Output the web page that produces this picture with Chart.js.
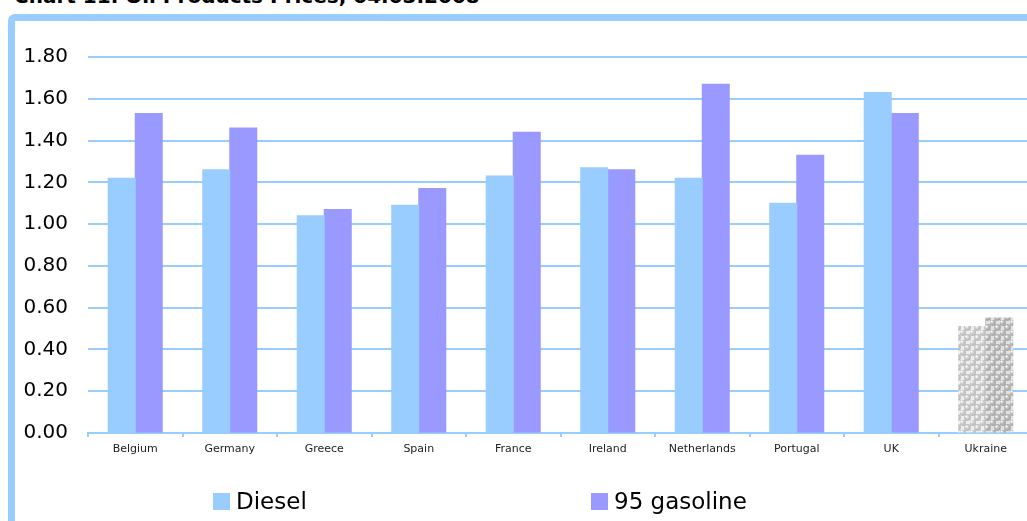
<!DOCTYPE html>
<html>
<head>
<meta charset="utf-8">
<script src="https://cdn.jsdelivr.net/npm/chart.js@4"></script>
<style>
  html, body { margin: 0; padding: 0; width: 1027px; height: 521px; overflow: hidden; background: #fff; }
  #title { position: absolute; left: 14px; top: -16px; font: bold 20px "DejaVu Sans", sans-serif; color: #000; white-space: nowrap; }
  #frame { position: absolute; left: 8px; top: 14px; width: 1060px; height: 540px; border: 7px solid #99CCFF; border-radius: 7px; box-sizing: border-box; }
  #oil-chart { position: absolute; left: 0; top: 0; }
  .legend-item { position: absolute; top: 489px; font: 23px "DejaVu Sans", sans-serif; color: #000; line-height: 24px; white-space: nowrap; }
  .legend-item span { display: inline-block; width: 17px; height: 17px; margin-right: 6px; vertical-align: -1px; }
</style>
</head>
<body>
<div id="title">Chart 11. Oil Products Prices, 04.03.2008</div>
<div id="frame"></div>
<canvas id="oil-chart" width="1045" height="521"></canvas>
<div class="legend-item" style="left:213px"><span style="background:#99CCFF"></span>Diesel</div>
<div class="legend-item" style="left:591px"><span style="background:#9999FF"></span>95 gasoline</div>
<script>
// Categories and series
const countries = ['Belgium', 'Germany', 'Greece', 'Spain', 'France', 'Ireland', 'Netherlands', 'Portugal', 'UK', 'Ukraine'];
const diesel = [1.22, 1.26, 1.04, 1.09, 1.23, 1.27, 1.22, 1.10, 1.63, 0.51];
const gasoline = [1.53, 1.46, 1.07, 1.17, 1.44, 1.26, 1.67, 1.33, 1.53, 0.55];
const patternIndex = countries.indexOf('Ukraine');

// Gray bubble fill used for Ukraine
function makeBubbles(bg, ball, edge) {
  const tile = document.createElement('canvas');
  tile.width = 10;
  tile.height = 10;
  const c = tile.getContext('2d');
  c.fillStyle = bg;
  c.fillRect(0, 0, 10, 10);
  [[2.5, 2.5], [7.5, 7.5], [7.5, -2.5], [-2.5, 7.5], [12.5, 7.5], [7.5, 12.5], [-2.5, -2.5], [12.5, 12.5], [12.5, -2.5], [-2.5, 12.5]].forEach(([x, y]) => {
    const g = c.createRadialGradient(x - 1.2, y - 1.2, 0.3, x, y, 3.6);
    g.addColorStop(0, '#ffffff');
    g.addColorStop(0.4, ball);
    g.addColorStop(1, edge);
    c.fillStyle = g;
    c.beginPath();
    c.arc(x, y, 3.4, 0, Math.PI * 2);
    c.fill();
  });
  return c.createPattern(tile, 'repeat');
}

const ctx = document.getElementById('oil-chart').getContext('2d');
const dieselPattern = makeBubbles('#eeeeee', '#d2d2d2', '#b4b4b4');
const gasolinePattern = makeBubbles('#e2e2e2', '#c0c0c0', '#a0a0a0');

const oilData = {
  labels: countries,
  datasets: [
    {
      label: 'Diesel',
      data: diesel,
      backgroundColor: (c) => (c.dataIndex === patternIndex ? dieselPattern : '#99CCFF'),
      borderWidth: 0,
      inflateAmount: 0.5,
    },
    {
      label: '95 gasoline',
      data: gasoline,
      backgroundColor: (c) => (c.dataIndex === patternIndex ? gasolinePattern : '#9999FF'),
      borderWidth: 0,
      inflateAmount: 0.5,
    },
  ],
};

const oilOptions = {
  responsive: false,
  animation: false,
  events: [],
  layout: {
    padding: { top: 57, right: 12, bottom: 58, left: 0 },
  },
  datasets: {
    bar: {
      categoryPercentage: 0.572,
      barPercentage: 1,
    },
  },
  scales: {
    x: {
      grid: {
        drawOnChartArea: false,
        drawTicks: true,
        tickLength: 4,
        color: '#99CCFF',
        lineWidth: 2,
      },
      border: { color: '#99CCFF', width: 2 },
      ticks: {
        color: '#222',
        padding: 6,
        maxRotation: 0,
        autoSkip: false,
        font: { family: 'DejaVu Sans', size: 11 },
      },
      afterFit: (s) => { s.height = 30; },
    },
    y: {
      min: 0,
      max: 1.8,
      grid: { color: '#99CCFF', lineWidth: 2, drawTicks: false },
      border: { display: false },
      ticks: {
        stepSize: 0.2,
        padding: 20,
        color: '#000',
        font: { family: 'DejaVu Sans', size: 20 },
        callback: (v) => Number(v).toFixed(2),
      },
      afterFit: (s) => { s.width = 88; },
    },
  },
  plugins: {
    legend: { display: false },
    tooltip: { enabled: false },
  },
};

new Chart(ctx, {
  type: 'bar',
  data: oilData,
  options: oilOptions,
});
</script>
</body>
</html>
